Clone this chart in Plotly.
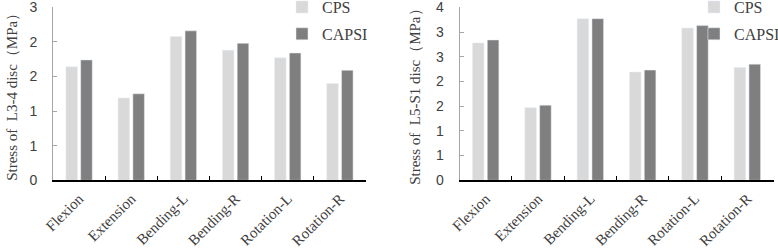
import plotly.graph_objects as go

categories = ["Flexion", "Extension", "Bending-L", "Bending-R", "Rotation-L", "Rotation-R"]
cps_l34 = [1.64, 1.19, 2.08, 1.88, 1.77, 1.40]
capsi_l34 = [1.74, 1.25, 2.16, 1.98, 1.84, 1.59]
cps_l5s1 = [2.78, 1.47, 3.27, 2.19, 3.08, 2.28]
capsi_l5s1 = [2.84, 1.52, 3.27, 2.23, 3.13, 2.35]
ytick_vals_l34 = [0, 0.5, 1, 1.5, 2, 2.5]
ytick_text_l34 = ["0", "1", "1", "2", "2", "3"]
ytick_vals_l5s1 = [0, 0.5, 1, 1.5, 2, 2.5, 3, 3.5]
ytick_text_l5s1 = ["0", "1", "1", "2", "2", "3", "3", "4"]

W, H = 778, 248
C_CPS = "#d9d9d9"
C_CAPSI = "#7f7f7f"
SERIF = "Liberation Serif, Times New Roman, serif"
SANS = "Liberation Sans, Arial, sans-serif"

fig = go.Figure()
fig.add_trace(go.Bar(x=categories, y=cps_l34, name="CPS", marker_color=C_CPS,
                     xaxis="x", yaxis="y", legend="legend", legendgroup="a"))
fig.add_trace(go.Bar(x=categories, y=capsi_l34, name="CAPSI", marker_color=C_CAPSI,
                     xaxis="x", yaxis="y", legend="legend", legendgroup="b"))
fig.add_trace(go.Bar(x=categories, y=cps_l5s1, name="CPS", marker_color=C_CPS,
                     xaxis="x2", yaxis="y2", legend="legend2", legendgroup="c"))
fig.add_trace(go.Bar(x=categories, y=capsi_l5s1, name="CAPSI", marker_color=C_CAPSI,
                     xaxis="x2", yaxis="y2", legend="legend2", legendgroup="d"))

ydom = [1 - 180.3 / H, 1 - 7.3 / H]

xcommon = dict(type="category", showline=True, linecolor="#000000", linewidth=1.5,
               ticks="inside", tickson="boundaries", ticklen=5, tickcolor="#000000",
               tickwidth=1, tickangle=-45, showgrid=False, zeroline=False,
               tickfont=dict(family=SERIF, size=15, color="#404040"),
               ticklabelstandoff=2, ticklabeloverflow="allow", automargin=False)
ycommon = dict(showline=True, linecolor="#a6a6a6", linewidth=1, ticks="inside",
               ticklen=4, tickcolor="#a6a6a6", showgrid=False, zeroline=False,
               tickfont=dict(family=SANS, size=14, color="#404040"),
               ticklabelstandoff=12, ticklabeloverflow="allow", automargin=False)

fig.update_layout(
    width=W, height=H,
    margin=dict(l=0, r=0, t=0, b=0, autoexpand=False),
    paper_bgcolor="white", plot_bgcolor="white",
    barmode="group", bargap=0.433, bargroupgap=0.22,
    xaxis=dict(domain=[53 / W, 366 / W], anchor="y", **xcommon),
    yaxis=dict(domain=ydom, anchor="x", range=[0, 2.5005], tickvals=ytick_vals_l34,
               ticktext=ytick_text_l34, **ycommon),
    xaxis2=dict(domain=[459.5 / W, 773.5 / W], anchor="y2", **xcommon),
    yaxis2=dict(domain=ydom, anchor="x2", range=[0, 3.5005], tickvals=ytick_vals_l5s1,
                ticktext=ytick_text_l5s1, **ycommon),
    legend=dict(x=282 / W, y=1.04, xanchor="left", yanchor="top",
                font=dict(family=SERIF, size=16, color="#404040"),
                bgcolor="rgba(0,0,0,0)", tracegroupgap=3, traceorder="grouped"),
    legend2=dict(x=694 / W, y=1.04, xanchor="left", yanchor="top",
                 font=dict(family=SERIF, size=16, color="#404040"),
                 bgcolor="rgba(0,0,0,0)", tracegroupgap=3, traceorder="grouped"),
    annotations=[
        dict(text="Stress of  L3-4 disc（MPa）", x=12 / W, y=(ydom[0] + ydom[1]) / 2,
             xref="paper", yref="paper", textangle=-90, showarrow=False,
             xanchor="center", yanchor="middle",
             font=dict(family=SERIF, size=15, color="#404040")),
        dict(text="Stress of  L5-S1 disc（MPa）", x=415 / W, y=(ydom[0] + ydom[1]) / 2,
             xref="paper", yref="paper", textangle=-90, showarrow=False,
             xanchor="center", yanchor="middle",
             font=dict(family=SERIF, size=15, color="#404040")),
    ],
)

fig.write_html("out.html", config={"displayModeBar": False},
               post_script="document.body.style.margin='0';document.body.style.overflow='hidden';")
